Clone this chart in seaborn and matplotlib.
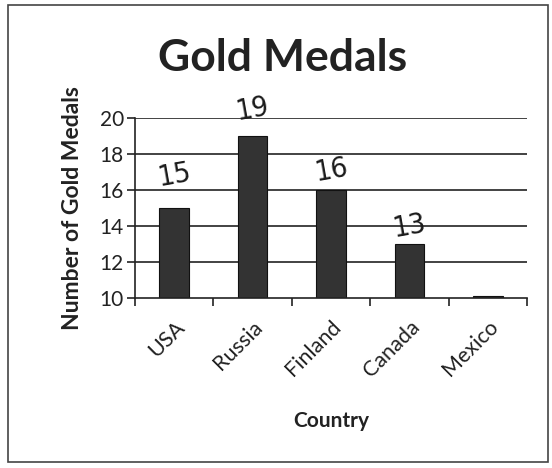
import matplotlib
matplotlib.use("Agg")
import matplotlib.pyplot as plt
import seaborn as sns
import pandas as pd
from matplotlib.patches import Rectangle

countries = ["USA", "Russia", "Finland", "Canada", "Mexico"]
gold_medals = [15, 19, 16, 13, 10.1]
hand_labels = ["15", "19", "16", "13"]
hand_label_y = [16.8, 20.5, 17.1, 14.0]
y_ticks = [10, 12, 14, 16, 18, 20]

sns.set_style("white")
plt.rcParams["font.family"] = ["Lato", "DejaVu Sans"]

df = pd.DataFrame({"Country": countries, "Gold": gold_medals})

fig = plt.figure(figsize=(5.52, 4.68), dpi=100)
ax = fig.add_axes([135/552, 1-298/468, (527-135)/552, (298-118)/468])

sns.barplot(data=df, x="Country", y="Gold", ax=ax, color="#333333",
            edgecolor="#111111", linewidth=0.8, width=0.38, saturation=1)

ax.set_ylim(10, 20)
ax.set_yticks(y_ticks)
ax.set_xlim(-0.5, len(countries) - 0.5)
for y in y_ticks[1:]:
    ax.axhline(y, color="#222222", linewidth=1.2, zorder=0)

for s in ["top", "right"]:
    ax.spines[s].set_visible(False)
for s in ["left", "bottom"]:
    ax.spines[s].set_color("#222222")
    ax.spines[s].set_linewidth(1.2)

ax.tick_params(axis="y", which="major", left=True, length=6, width=1.2,
               color="#222222", labelsize=15, labelcolor="#222222", pad=2)
ax.set_xticks(range(len(countries)))
ax.set_xticklabels(countries, rotation=45, ha="right", rotation_mode="anchor",
                   fontsize=15.5, color="#222222")
ax.tick_params(axis="x", which="major", bottom=False, pad=10)
ax.set_xticks([i - 0.5 for i in range(len(countries) + 1)], minor=True)
ax.tick_params(axis="x", which="minor", bottom=True, length=6, width=1.2,
               color="#222222")

ax.set_xlabel("Country", fontsize=15, fontweight="bold", color="#222222", labelpad=22)
ax.set_ylabel("Number of Gold Medals", fontsize=16.5, fontweight="bold",
              color="#222222", labelpad=12)
fig.text(283/552, 1-58/468, "Gold Medals", ha="center", va="center",
         fontsize=32, fontweight="bold", color="#222222")

for i, (t, yv) in enumerate(zip(hand_labels, hand_label_y)):
    ax.text(i, yv, t, ha="center", va="center", fontsize=21, rotation=10,
            fontweight="light", color="#1a1a1a", family=["DejaVu Sans"],
            fontstretch="condensed", clip_on=False)

fig.patches.append(Rectangle((8/552, 1-462/468), (548-8)/552, (462-5)/468,
                             transform=fig.transFigure, fill=False,
                             edgecolor="#444444", linewidth=1.2))

fig.savefig("out.png", dpi=100, facecolor="white")
